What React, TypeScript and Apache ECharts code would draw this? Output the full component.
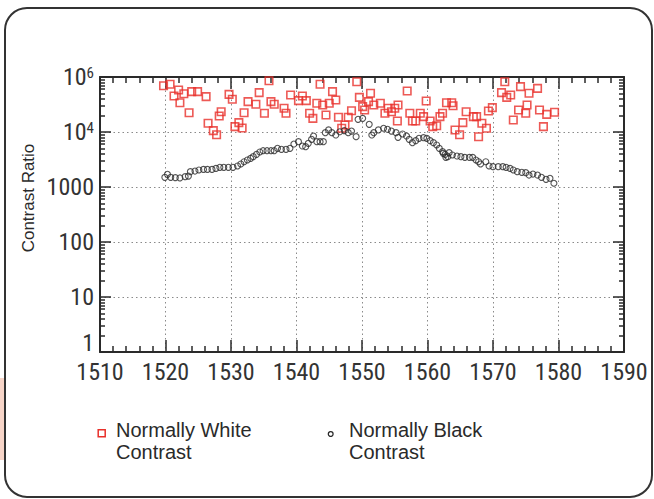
import React, { useEffect, useRef } from 'react';
import * as echarts from 'echarts';

// Normally White contrast (red squares)
const whiteX = [1519.7, 1520.7, 1521.3, 1522.0, 1522.2, 1522.8, 1523.6, 1524.0, 1524.9, 1526.2, 1526.5, 1527.3, 1527.8, 1528.2, 1528.5, 1529.7, 1530.2, 1530.6, 1531.2, 1531.7, 1532.0, 1532.6, 1533.8, 1534.3, 1535.1, 1535.8, 1536.1, 1536.6, 1538.1, 1538.4, 1539.1, 1540.3, 1540.9, 1541.5, 1542.0, 1542.5, 1543.1, 1543.6, 1544.0, 1544.5, 1545.0, 1545.5, 1546.0, 1546.4, 1546.9, 1547.4, 1547.9, 1548.4, 1549.2, 1549.6, 1550.1, 1550.4, 1551.0, 1551.3, 1551.8, 1552.8, 1553.5, 1554.0, 1554.5, 1555.0, 1555.5, 1555.4, 1556.9, 1557.3, 1557.7, 1558.2, 1558.9, 1559.4, 1559.8, 1560.4, 1560.8, 1561.4, 1561.9, 1562.3, 1562.9, 1563.7, 1563.9, 1564.2, 1564.9, 1565.4, 1565.9, 1567.0, 1567.5, 1567.8, 1568.3, 1569.0, 1569.3, 1569.9, 1571.8, 1571.3, 1572.1, 1572.7, 1573.1, 1573.9, 1574.2, 1575.0, 1575.2, 1575.5, 1576.8, 1577.1, 1577.7, 1578.2, 1579.4];
const whiteY = [69500, 73600, 45200, 58100, 34100, 49700, 22400, 54100, 54100, 43900, 14400, 10600, 8930, 19500, 23400, 48400, 39400, 12500, 14800, 11800, 22400, 35600, 31900, 51900, 21900, 85700, 35600, 31900, 27000, 21900, 47100, 37200, 45200, 37200, 21900, 17700, 33300, 73600, 31000, 20400, 33300, 54100, 38200, 18500, 11700, 13400, 18500, 24400, 82200, 42700, 28900, 25100, 35600, 50500, 31000, 33300, 21900, 27000, 23400, 27000, 31000, 15800, 55600, 21900, 15800, 15800, 21900, 19000, 36600, 15800, 12500, 13000, 19000, 21900, 34100, 34100, 30100, 10900, 8930, 14800, 23400, 19000, 19000, 8220, 14400, 11700, 24100, 27700, 82200, 51900, 42700, 47100, 16500, 25100, 66700, 21900, 31000, 50500, 62200, 25100, 12500, 20900, 22800];

// Normally Black contrast (black circles)
const blackX = [1519.9, 1520.3, 1520.8, 1521.5, 1522.2, 1523.0, 1523.5, 1523.8, 1524.5, 1525.1, 1525.8, 1526.4, 1527.1, 1527.7, 1528.3, 1528.9, 1529.6, 1530.3, 1531.0, 1531.5, 1532.0, 1532.5, 1533.0, 1533.4, 1533.9, 1534.4, 1534.9, 1535.5, 1536.1, 1536.6, 1537.1, 1537.7, 1538.4, 1539.0, 1539.6, 1540.3, 1540.9, 1541.4, 1541.8, 1542.3, 1542.6, 1543.1, 1543.6, 1544.1, 1544.4, 1544.9, 1545.4, 1546.0, 1546.6, 1547.3, 1547.9, 1548.4, 1549.1, 1549.4, 1550.1, 1551.1, 1551.5, 1551.8, 1552.5, 1553.3, 1553.9, 1554.5, 1555.2, 1555.5, 1556.2, 1556.8, 1557.2, 1557.7, 1558.2, 1558.7, 1559.4, 1559.9, 1560.4, 1560.9, 1561.4, 1561.8, 1562.3, 1562.4, 1562.7, 1562.8, 1563.1, 1563.3, 1563.8, 1564.5, 1565.1, 1565.7, 1566.4, 1566.9, 1567.4, 1567.8, 1568.1, 1568.9, 1569.4, 1570.0, 1570.8, 1571.5, 1572.0, 1572.6, 1573.1, 1573.7, 1574.4, 1575.0, 1575.5, 1576.1, 1576.8, 1577.4, 1578.1, 1578.7, 1579.3];
const blackY = [1500, 1700, 1500, 1480, 1460, 1540, 1580, 1900, 1950, 2040, 2090, 2090, 2090, 2180, 2280, 2280, 2280, 2280, 2410, 2620, 2880, 3100, 3320, 3560, 3930, 4330, 4570, 4570, 4570, 4570, 5050, 4840, 4840, 5050, 6050, 6670, 5560, 5410, 6220, 7360, 8450, 6670, 6670, 6670, 9730, 10900, 9730, 8810, 10100, 10600, 9730, 10400, 8220, 17000, 17700, 13800, 8810, 9730, 10900, 11700, 11200, 10400, 9730, 8000, 9200, 8450, 7360, 6400, 6950, 7670, 7890, 7670, 6950, 6400, 5810, 5050, 4390, 4090, 3930, 3460, 3560, 4210, 3820, 3660, 3560, 3460, 3460, 3460, 3100, 2880, 2620, 2880, 2410, 2340, 2340, 2340, 2280, 2180, 2040, 1900, 1850, 1820, 1650, 1720, 1650, 1500, 1380, 1440, 1170];

const seriesNames = ['Normally White\nContrast', 'Normally Black\nContrast'];
const yTickLabels = ['1', '10', '100', '1000', '10^4', '10^6'];
const yAxisTitle = 'Contrast Ratio';
const xMin = 1510;
const xMax = 1590;
const xInterval = 10;
const yMin = 1;
const yMax = 100000;

const RED = '#e8302a';
const INK = '#2a2a2a';
const LABEL = '#333333';
const NARROW = "'Liberation Sans Narrow', 'Arial Narrow', 'Roboto Condensed', Roboto, sans-serif";
const SANS = "'Liberation Sans', Arial, Helvetica, sans-serif";

export default function App() {
  const ref = useRef<HTMLDivElement>(null);

  useEffect(() => {
    if (!ref.current) return;
    const chart = echarts.init(ref.current, undefined, { renderer: 'svg' });

    const whiteData = whiteX.map((x, i) => [x, whiteY[i]]);
    const blackData = blackX.map((x, i) => [x, blackY[i]]);

    const decades = Math.round(Math.log10(yMax / yMin));
    const minorVals: number[] = [];
    for (let d = 0; d < decades; d++) {
      for (let k = 2; k <= 9; k++) minorVals.push(d + Math.log10(k));
    }

    const yLabelFmt = (v: number) => {
      const idx = Math.round(Math.log10(v));
      const lab = yTickLabels[idx] ?? '';
      if (lab.includes('^')) {
        const [b, s] = lab.split('^');
        return `{b|${b}}{s|${s}}`;
      }
      if (idx === 0) return `{one|${lab}}`;
      return `{b|${lab}}`;
    };

    const axisLineStyle = { color: INK, width: 2 };
    const dotted = { color: '#8a8a8a', type: [1.5, 3] as any, width: 1 };

    const xAxisBase = {
      type: 'value' as const,
      min: xMin,
      max: xMax,
      interval: xInterval,
      axisLine: { show: true, onZero: false, lineStyle: axisLineStyle },
      axisTick: { show: true, inside: true, length: 12, lineStyle: { color: INK, width: 1.5 } },
      minorTick: { show: true, splitNumber: 5, length: 6, lineStyle: { color: INK, width: 1.5 } },
    };

    const yMajorBase = {
      type: 'log' as const,
      logBase: 10,
      min: yMin,
      max: yMax,
      axisLine: { show: true, onZero: false, lineStyle: axisLineStyle },
      axisTick: { show: true, inside: true, length: 11, lineStyle: { color: INK, width: 1.5 } },
      minorTick: { show: false },
      minorSplitLine: { show: false },
    };

    const yMinorBase = {
      type: 'value' as const,
      min: 0,
      max: decades,
      axisLine: { show: false },
      axisLabel: { show: false },
      splitLine: { show: false },
      axisTick: {
        show: true,
        inside: true,
        length: 5,
        customValues: minorVals,
        lineStyle: { color: INK, width: 1.5 },
      },
    };

    chart.setOption({
      animation: false,
      backgroundColor: '#ffffff',
      grid: { left: 100, right: 30, top: 77, bottom: 147 },
      xAxis: [
        {
          ...xAxisBase,
          position: 'bottom',
          axisLabel: {
            show: true,
            margin: 8,
            fontFamily: NARROW,
            fontSize: 24,
            color: LABEL,
            showMinLabel: true,
            showMaxLabel: true,
            formatter: (v: number) => String(v),
          },
          splitLine: { show: true, showMinLine: false, showMaxLine: false, lineStyle: dotted },
        },
        {
          ...xAxisBase,
          position: 'top',
          axisLabel: { show: false },
          splitLine: { show: false },
        },
      ],
      yAxis: [
        {
          ...yMajorBase,
          position: 'left',
          axisLabel: {
            show: true,
            margin: 6,
            formatter: yLabelFmt,
            rich: {
              b: { fontFamily: NARROW, fontSize: 24, color: LABEL },
              s: { fontFamily: NARROW, fontSize: 15, color: LABEL, verticalAlign: 'top' },
              one: { fontFamily: NARROW, fontSize: 24, color: LABEL, padding: [0, 0, 18, 0] },
            },
          },
          splitLine: { show: true, showMinLine: false, showMaxLine: false, lineStyle: dotted },
        },
        {
          ...yMajorBase,
          position: 'right',
          axisLabel: { show: false },
          splitLine: { show: false },
        },
        { ...yMinorBase, position: 'left' },
        { ...yMinorBase, position: 'right' },
      ],
      graphic: [
        {
          type: 'rect',
          shape: { x: 0, y: 378, width: 4, height: 82 },
          style: { fill: '#f7d5c8' },
          z: 0,
        },
        {
          type: 'rect',
          shape: { x: 5, y: 8, width: 647, height: 489, r: 22 },
          style: { fill: 'none', stroke: '#333333', lineWidth: 2 },
          z: 1,
        },
        {
          type: 'text',
          x: 28,
          y: 198,
          rotation: Math.PI / 2,
          style: {
            text: yAxisTitle,
            fontFamily: SANS,
            fontSize: 17,
            fill: INK,
            align: 'center',
            verticalAlign: 'middle',
          },
        },
        {
          type: 'rect',
          shape: { x: 98.2, y: 429.8, width: 7, height: 7 },
          style: { fill: 'none', stroke: RED, lineWidth: 1.5 },
        },
        {
          type: 'text',
          x: 116,
          y: 419,
          style: {
            text: seriesNames[0],
            fontFamily: SANS,
            fontSize: 20,
            lineHeight: 22,
            fill: INK,
            align: 'left',
            verticalAlign: 'top',
          },
        },
        {
          type: 'circle',
          shape: { cx: 330.7, cy: 434, r: 2.4 },
          style: { fill: 'none', stroke: INK, lineWidth: 1.3 },
        },
        {
          type: 'text',
          x: 349,
          y: 418.5,
          style: {
            text: seriesNames[1],
            fontFamily: SANS,
            fontSize: 20,
            lineHeight: 22,
            fill: INK,
            align: 'left',
            verticalAlign: 'top',
          },
        },
      ],
      series: [
        {
          name: seriesNames[0],
          type: 'scatter',
          xAxisIndex: 0,
          yAxisIndex: 0,
          symbol: 'rect',
          symbolSize: 7.5,
          itemStyle: { color: 'rgba(0,0,0,0)', borderColor: RED, borderWidth: 1.6 },
          data: whiteData,
          z: 3,
        },
        {
          name: seriesNames[1],
          type: 'scatter',
          xAxisIndex: 0,
          yAxisIndex: 0,
          symbol: 'circle',
          symbolSize: 6,
          itemStyle: { color: 'rgba(0,0,0,0)', borderColor: INK, borderWidth: 1.1 },
          data: blackData,
          z: 3,
        },
      ],
    });

    return () => chart.dispose();
  }, []);

  return (
    <div
      ref={ref}
      style={{ position: 'fixed', left: 0, top: 0, width: 654, height: 499, background: '#fff' }}
    />
  );
}
